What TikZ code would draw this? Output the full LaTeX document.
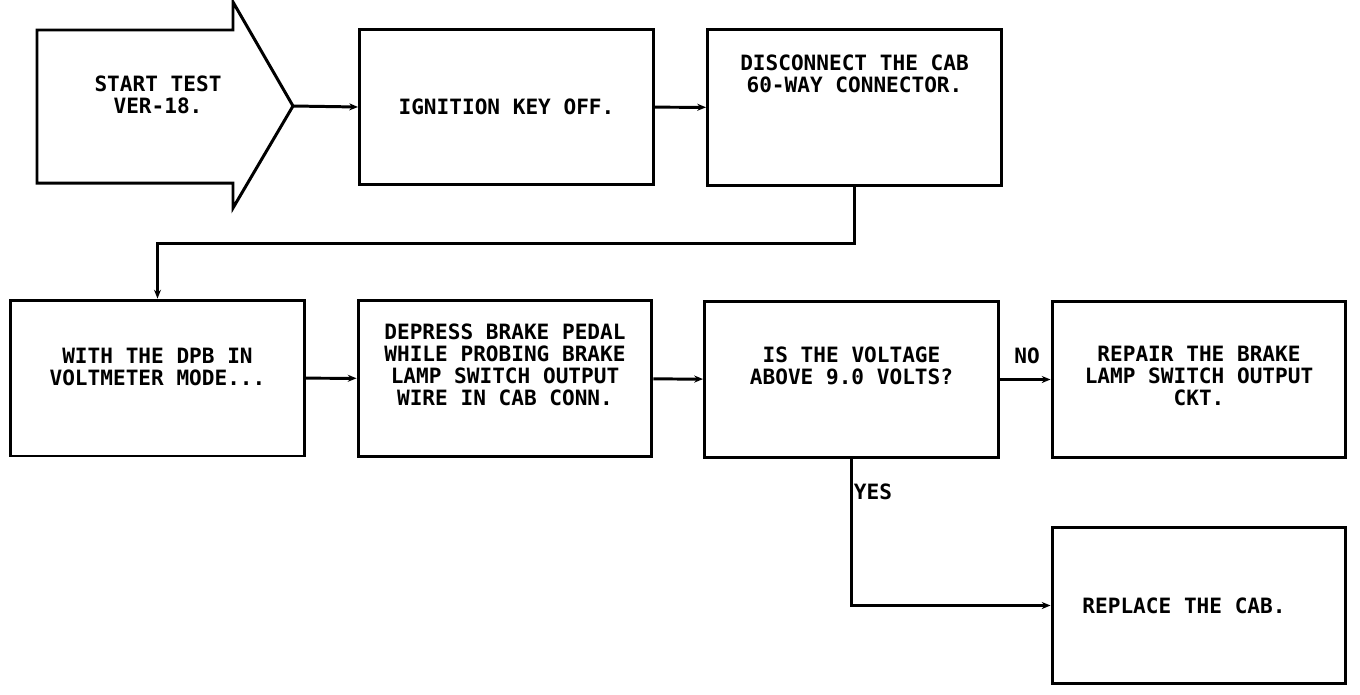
\documentclass[tikz,border=0pt]{standalone}
\usepackage{fontspec}
\setmonofont{DejaVu Sans Mono}
\usetikzlibrary{arrows.meta}
\begin{document}
\begin{tikzpicture}[
  x=0.02cm, y=-0.02cm,
  line width=1.7pt,
  box/.style={draw, rectangle, minimum width=5.88cm, minimum height=3.12cm},
  txt/.style={font=\ttfamily\bfseries\fontsize{12}{12.5}\selectfont, align=center, inner sep=0pt},
  conn/.style={draw, -{Stealth[length=5pt,width=4pt]}}
]
\useasboundingbox (0,0) rectangle (1360,694);
\draw (37,30) -- (233,30) -- (233,2) -- (293,106) -- (233,208) -- (233,183) -- (37,183) -- cycle;
\coordinate (tip) at (293,106);
\node[txt] (start) at (158,95) {START TEST\\VER-18.};
\node[box, label={[txt]center:IGNITION KEY OFF.}] (ign) at (506.5,107) {};
\node[box, label={[txt, yshift=0.67cm]center:DISCONNECT THE CAB\\60-WAY CONNECTOR.}] (disc) at (854.5,107.5) {};
\node[box, label={[txt, yshift=0.22cm]center:WITH THE DPB IN\\VOLTMETER MODE...}] (with) at (157.5,378) {};
\node[box, label={[txt, yshift=0.27cm]center:DEPRESS BRAKE PEDAL\\WHILE PROBING BRAKE\\LAMP SWITCH OUTPUT\\WIRE IN CAB CONN.}] (depr) at (505,378.5) {};
\node[box, label={[txt, yshift=0.27cm]center:IS THE VOLTAGE\\ABOVE 9.0 VOLTS?}] (volt) at (851.5,379.5) {};
\node[box, label={[txt, yshift=0.07cm]center:REPAIR THE BRAKE\\LAMP SWITCH OUTPUT\\CKT.}] (repair) at (1199,379.5) {};
\node[box, label={[txt, xshift=-0.3cm]center:REPLACE THE CAB.}] (replace) at (1199,605.5) {};
\node[txt] (no) at (1027,356) {NO};
\node[txt] (yes) at (873,492) {YES};
\draw[conn] (tip) -- (ign.west);
\draw[conn] (ign) -- (disc);
\draw[conn] (disc.south) -- ++(0,57) -| (with.north);
\draw[conn] (with) -- (depr);
\draw[conn] (depr) -- (volt);
\draw[conn] (volt) -- (repair);
\draw[conn] (volt.south) |- (replace.west);
\end{tikzpicture}
\end{document}
